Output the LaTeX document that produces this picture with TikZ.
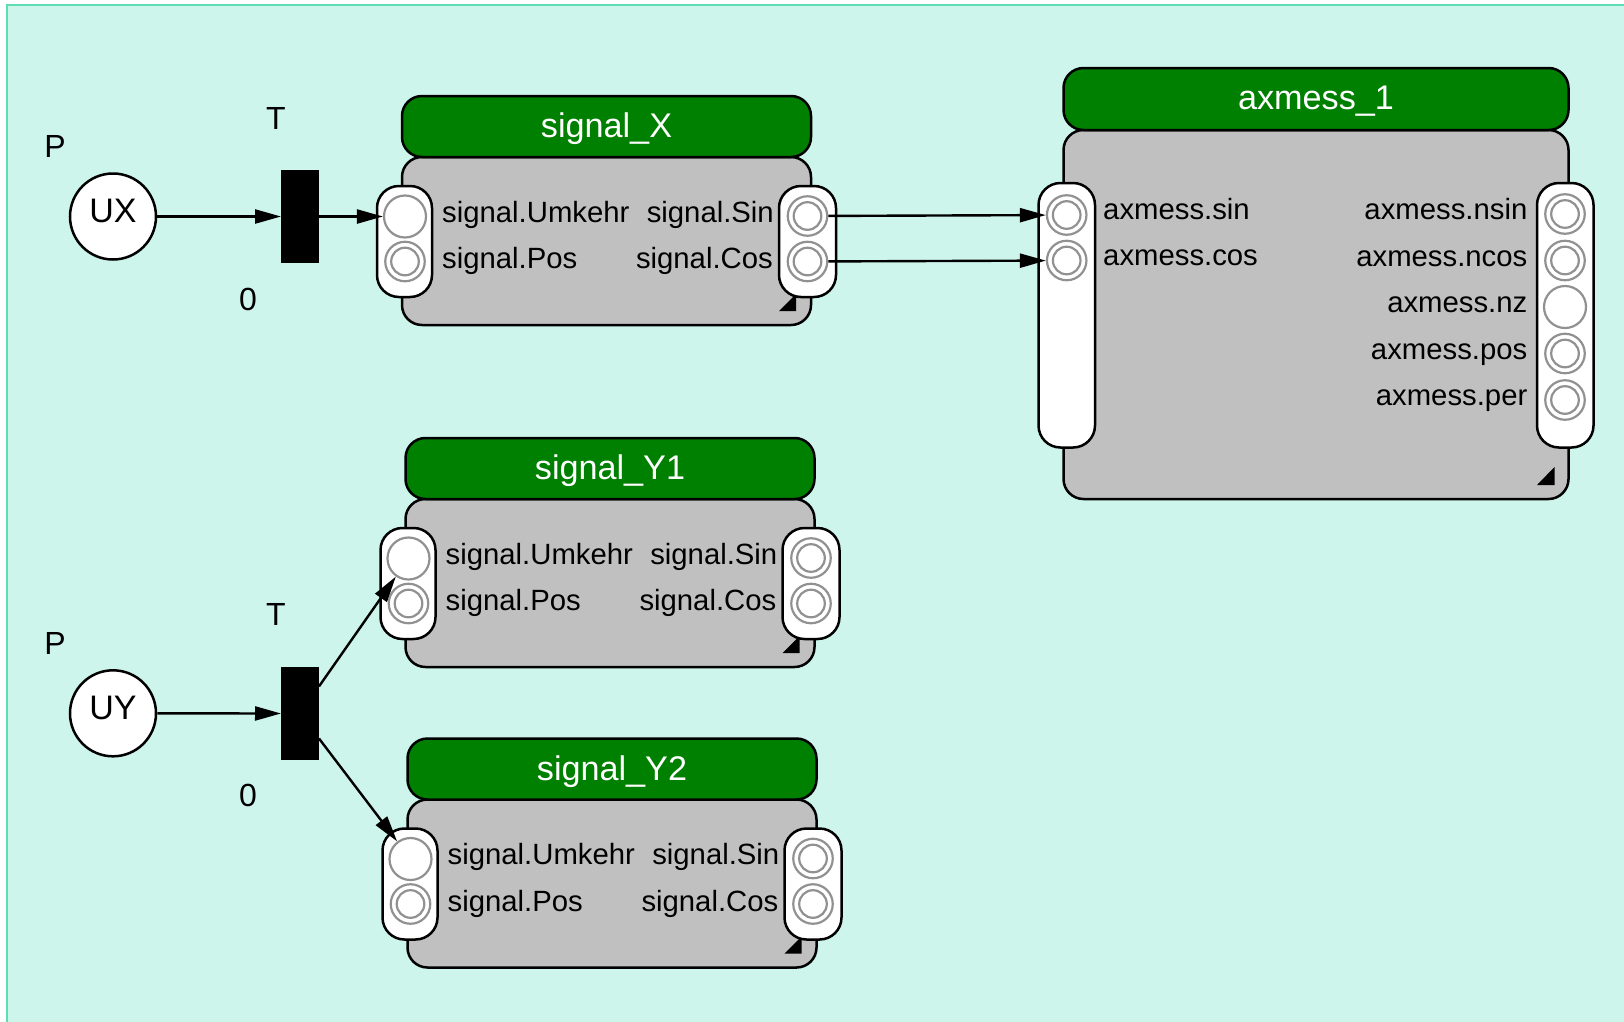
\documentclass[tikz,border=0pt]{standalone}
\usepackage{fontspec}
\setmainfont{Liberation Sans}
\usetikzlibrary{arrows.meta}

\definecolor{canvasbg}{RGB}{205,245,236}
\definecolor{framemint}{RGB}{94,221,178}
\definecolor{headgreen}{RGB}{0,128,0}
\definecolor{bodygray}{RGB}{192,192,192}
\definecolor{ringgray}{RGB}{145,145,145}

\tikzset{
  frame/.style={draw=framemint, fill=canvasbg, line width=2pt},
  blockline/.style={draw=black, line width=2.5pt},
  body/.style={blockline, fill=bodygray, rounded corners=20pt},
  header/.style={blockline, fill=headgreen, rounded corners=20pt},
  strip/.style={blockline, fill=white, rounded corners=22pt},
  portS/.style={circle, draw=ringgray, fill=white, line width=2.2pt,
    minimum size=42pt, inner sep=0pt, outer sep=1.1pt},
  portD/.style={circle, draw=ringgray, fill=white, line width=2.2pt,
    minimum size=39.5pt, inner sep=0pt, outer sep=1.1pt,
    path picture={\draw[ringgray, line width=2.2pt]
      (path picture bounding box.center) circle[radius=13.8pt];}},
  title/.style={text=white, font=\fontsize{34.2}{40}\selectfont,
    inner sep=0pt, anchor=base},
  lblL/.style={font=\fontsize{29.3}{34}\selectfont, inner sep=0pt, anchor=base west},
  lblR/.style={font=\fontsize{29.3}{34}\selectfont, inner sep=0pt, anchor=base east},
  place/.style={circle, draw=black, fill=white, line width=2.5pt,
    minimum size=86pt, inner sep=0pt, font=\fontsize{34}{40}\selectfont,
    text height=24pt, text depth=12pt},
  tag/.style={font=\fontsize{32}{38}\selectfont, inner sep=0pt, anchor=base},
  trans/.style={rectangle, fill=black, minimum width=38pt, minimum height=93pt,
    inner sep=0pt, outer sep=0pt},
  conn/.style={draw=black, line width=2.4pt, -{Triangle[length=26pt,width=14pt]}},
  corner/.style={fill=black},
}

% signal block: #1 prefix, #2 title, #3/#4 shift
\newcommand{\SigBlock}[4]{%
  \begin{scope}[shift={(#3,#4)}]
    \draw[body] (402,157) rectangle (811,325);
    \draw[header] (402,96) rectangle (811,157);
    \node[title] (#1-title) at (606.5,137.5) {#2};
    \fill[corner] (796,294) -- (796,311) -- (779,311) -- cycle;
    \draw[strip] (377,186) rectangle (432,297);
    \draw[strip] (779,186) rectangle (836,297);
    \node[portS] (#1-Umkehr) at (405,216.5) {};
    \node[portD] (#1-Pos) at (405,261.5) {};
    \node[portD] (#1-Sin) at (807.5,216) {};
    \node[portD] (#1-Cos) at (807.5,261.5) {};
    \node[lblL] (#1-tUmkehr) at (442,222) {signal.Umkehr};
    \node[lblL] (#1-tPos) at (442,268.5) {signal.Pos};
    \node[lblR] (#1-tSin) at (774,222) {signal.Sin};
    \node[lblR] (#1-tCos) at (773,268.5) {signal.Cos};
  \end{scope}}

\begin{document}
\begin{tikzpicture}[x=1pt,y=-1pt]
  \useasboundingbox (0,0) rectangle (1624,1021);
  \begin{scope}
    \clip (0,0) rectangle (1624,1021);
    \fill[white] (0,0) rectangle (1624,1021);
    \draw[frame] (7,5) rectangle (1660,1060);
  \end{scope}

  % places and transitions
  \node[place] (UX) at (113,216.5) {UX};
  \node[tag] (PX) at (55,157.7) {P};
  \node[tag] (TXl) at (276,129.3) {T};
  \node[tag] (ZX) at (248,310) {0};
  \node[trans] (TX) at (300,216.5) {};

  \node[place] (UY) at (113,713.3) {UY};
  \node[tag] (PY) at (55,654.2) {P};
  \node[tag] (TYl) at (276,625.8) {T};
  \node[tag] (ZY) at (248,806.5) {0};
  \node[trans] (TY) at (300,713.5) {};

  % signal blocks
  \SigBlock{X}{signal\_X}{0}{0}
  \SigBlock{Ya}{signal\_Y1}{3.5}{342}
  \SigBlock{Yb}{signal\_Y2}{5.5}{642.5}

  % axmess block
  \draw[body] (1063.5,130) rectangle (1568.5,499);
  \draw[header] (1063.5,68) rectangle (1568.5,130);
  \node[title] (A-title) at (1316,109.5) {axmess\_1};
  \fill[corner] (1554.5,467) -- (1554.5,485) -- (1537,485) -- cycle;
  \draw[strip] (1038.5,183) rectangle (1095,447.5);
  \draw[strip] (1537,183) rectangle (1593.5,447.5);
  \node[portD] (A-sin) at (1066.7,215) {};
  \node[portD] (A-cos) at (1066.7,260.5) {};
  \node[portD] (A-nsin) at (1565,214) {};
  \node[portD] (A-ncos) at (1565,260.5) {};
  \node[portS] (A-nz) at (1565,307) {};
  \node[portD] (A-pos) at (1565,353.5) {};
  \node[portD] (A-per) at (1565,400) {};
  \node[lblL] (A-tsin) at (1103,219.5) {axmess.sin};
  \node[lblL] (A-tcos) at (1103,265.5) {axmess.cos};
  \node[lblR] (A-tnsin) at (1527.5,219.5) {axmess.nsin};
  \node[lblR] (A-tncos) at (1527.5,266) {axmess.ncos};
  \node[lblR] (A-tnz) at (1527.5,312.5) {axmess.nz};
  \node[lblR] (A-tpos) at (1527.5,359) {axmess.pos};
  \node[lblR] (A-tper) at (1527.5,405.5) {axmess.per};

  % connectors
  \draw[conn] (UX) -- (TX);
  \draw[conn] (TX) -- (X-Umkehr);
  \draw[conn] (X-Sin) -- (A-sin);
  \draw[conn] (X-Cos) -- (A-cos);
  \draw[conn] (UY) -- (TY);
  \draw[conn] (TY) -- (Ya-Umkehr);
  \draw[conn] (TY) -- (Yb-Umkehr);
\end{tikzpicture}
\end{document}
